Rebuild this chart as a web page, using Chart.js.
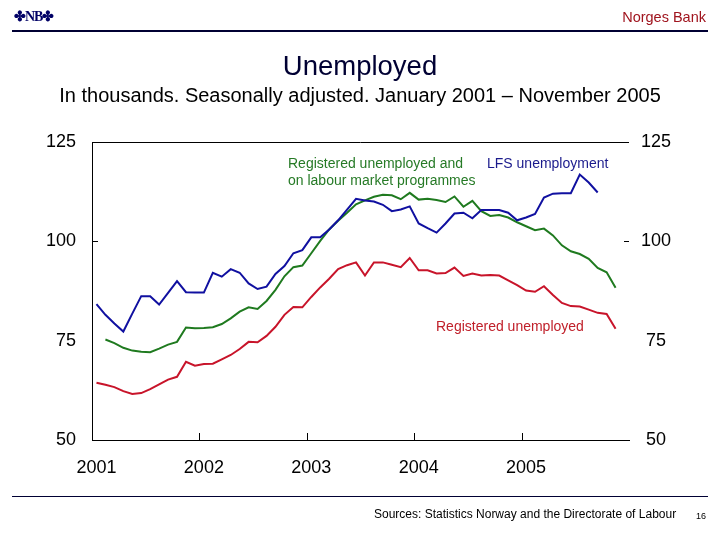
<!DOCTYPE html>
<html>
<head>
<meta charset="utf-8">
<script src="https://cdn.jsdelivr.net/npm/chart.js@4.4.0/dist/chart.umd.min.js"></script>
<style>
  html, body { margin: 0; padding: 0; background: #fff; }
  #wrap { position: relative; width: 720px; height: 540px; font-family: "Liberation Sans", Arial, sans-serif; }
  canvas { position: absolute; left: 0; top: 0; }
  .t { position: absolute; white-space: nowrap; line-height: 1; }
  .hline { position: absolute; left: 12px; width: 696px; background: #000033; }
</style>
</head>
<body>
<div id="wrap">
  <canvas id="c" width="720" height="540"></canvas>
  <div class="t" style="left:14px; top:10px; font-family:'Liberation Serif',serif; font-weight:bold; font-size:14px; color:#000066; letter-spacing:-1px;">✤NB✤</div>
  <div class="t" style="right:14px; top:10px; font-size:14.5px; color:#a0141e;">Norges Bank</div>
  <div class="hline" style="top:30px; height:2px;"></div>
  <div class="t" style="left:0; width:720px; text-align:center; top:52px; font-size:27.5px; color:#000033;">Unemployed</div>
  <div class="t" style="left:0; width:720px; text-align:center; top:85px; font-size:20px; color:#000;">In thousands. Seasonally adjusted. January 2001 – November 2005</div>
  <div class="t" style="left:288px; top:156px; font-size:14px; color:#267a26;">Registered unemployed and</div>
  <div class="t" style="left:288px; top:173px; font-size:14px; color:#267a26;">on labour market programmes</div>
  <div class="t" style="left:487px; top:156px; font-size:14px; color:#1a1a8c;">LFS unemployment</div>
  <div class="t" style="left:436px; top:319px; font-size:14px; color:#c0202a;">Registered unemployed</div>
  <div class="hline" style="top:496px; height:1px;"></div>
  <div class="t" style="left:374px; top:508px; font-size:12px; color:#000;">Sources: Statistics Norway and the Directorate of Labour</div>
  <div class="t" style="left:696px; top:512px; font-size:9px; color:#000;">16</div>
</div>
<script>
const months = [
  '2001-01','2001-02','2001-03','2001-04','2001-05','2001-06','2001-07','2001-08','2001-09','2001-10','2001-11','2001-12',
  '2002-01','2002-02','2002-03','2002-04','2002-05','2002-06','2002-07','2002-08','2002-09','2002-10','2002-11','2002-12',
  '2003-01','2003-02','2003-03','2003-04','2003-05','2003-06','2003-07','2003-08','2003-09','2003-10','2003-11','2003-12',
  '2004-01','2004-02','2004-03','2004-04','2004-05','2004-06','2004-07','2004-08','2004-09','2004-10','2004-11','2004-12',
  '2005-01','2005-02','2005-03','2005-04','2005-05','2005-06','2005-07','2005-08','2005-09','2005-10','2005-11','2005-12'
];
const yTicks = [50, 75, 100, 125];

const lfsUnemployment = [
  84.2, 81.5, 79.3, 77.3, 81.8, 86.2, 86.2, 84.1, 87.0, 90.0, 87.2, 87.1,
  87.1, 92.1, 91.1, 93.0, 92.1, 89.4, 88.0, 88.6, 91.8, 93.8, 97.0, 97.8,
  101.0, 101.0, 103.0, 105.3, 108.0, 110.7, 110.3, 110.0, 109.2, 107.6, 108.0, 108.8,
  104.5, 103.3, 102.2, 104.5, 107.0, 107.2, 105.8, 107.9, 107.9, 107.9, 107.2, 105.3,
  106.0, 106.9, 111.0, 112.0, 112.1, 112.1, 116.8, 114.8, 112.3, null, null, null
];
const registeredAndProgrammes = [
  null, 75.3, 74.4, 73.2, 72.5, 72.2, 72.1, 73.0, 74.0, 74.7, 78.3, 78.1,
  78.2, 78.4, 79.2, 80.6, 82.3, 83.4, 83.0, 85.0, 87.8, 91.2, 93.5, 93.9,
  97.0, 100.1, 103.0, 105.2, 107.2, 109.3, 110.3, 111.2, 111.7, 111.6, 110.6, 112.2,
  110.5, 110.7, 110.4, 109.9, 111.3, 108.7, 110.2, 107.6, 106.4, 106.6, 106.0, 104.8,
  103.8, 102.8, 103.2, 101.5, 99.0, 97.5, 96.8, 95.6, 93.3, 92.2, 88.3, null
];
const registeredUnemployed = [
  64.4, 63.9, 63.3, 62.3, 61.6, 61.8, 62.8, 64.0, 65.2, 65.9, 69.7, 68.7,
  69.1, 69.2, 70.3, 71.4, 72.9, 74.7, 74.6, 76.2, 78.5, 81.5, 83.5, 83.4,
  86.0, 88.4, 90.6, 93.0, 94.0, 94.7, 91.4, 94.7, 94.7, 94.1, 93.5, 95.8,
  92.7, 92.7, 91.9, 92.0, 93.4, 91.3, 91.9, 91.4, 91.5, 91.4, 90.2, 89.0,
  87.6, 87.3, 88.7, 86.5, 84.5, 83.7, 83.6, 82.8, 82.0, 81.7, 78.0, null
];

const AXIS_FONT = { family: "'Liberation Sans', Arial, sans-serif", size: 18 };
const AXIS_COLOR = '#000';

const frame = {
  id: 'frame',
  afterDraw(chart) {
    const { ctx, chartArea: a, scales } = chart;
    ctx.save();
    ctx.strokeStyle = '#000';
    ctx.lineWidth = 1;
    ctx.beginPath();
    ctx.moveTo(a.left, a.top + 0.5);
    ctx.lineTo(a.right, a.top + 0.5);
    ctx.stroke();
    const x = scales.x;
    for (let i = 12; i < months.length; i += 12) {
      const px = Math.round((x.getPixelForValue(i) + x.getPixelForValue(i - 1)) / 2) + 0.5;
      ctx.beginPath();
      ctx.moveTo(px, a.bottom);
      ctx.lineTo(px, a.bottom - 7);
      ctx.stroke();
    }
    const py = Math.round(scales.y.getPixelForValue(100)) + 0.5;
    ctx.beginPath();
    ctx.moveTo(a.left, py); ctx.lineTo(a.left + 6, py);
    ctx.moveTo(a.right, py); ctx.lineTo(a.right - 5, py);
    ctx.stroke();
    ctx.restore();
  }
};

new Chart(document.getElementById('c'), {
  type: 'line',
  data: {
    labels: months,
    datasets: [
      { label: 'LFS unemployment', data: lfsUnemployment, borderColor: '#1010a0', borderWidth: 2, pointRadius: 0, tension: 0, yAxisID: 'y' },
      { label: 'Registered unemployed and on labour market programmes', data: registeredAndProgrammes, borderColor: '#1f7a1f', borderWidth: 2, pointRadius: 0, tension: 0, yAxisID: 'y' },
      { label: 'Registered unemployed', data: registeredUnemployed, borderColor: '#c8142a', borderWidth: 2, pointRadius: 0, tension: 0, yAxisID: 'y' },
      { label: '_right', data: [], yAxisID: 'y2' }
    ]
  },
  options: {
    responsive: false,
    animation: false,
    devicePixelRatio: 1,
    layout: { padding: { top: 142, left: 0, right: 0, bottom: 0 } },
    plugins: { legend: { display: false }, tooltip: { enabled: false }, title: { display: false } },
    scales: {
      x: {
        type: 'category',
        offset: true,
        grid: { display: false, drawTicks: false },
        border: { display: true, color: '#000', width: 1 },
        afterFit: (s) => { s.height = 100; },
        ticks: {
          autoSkip: false,
          maxRotation: 0,
          padding: 17,
          color: AXIS_COLOR,
          font: AXIS_FONT,
          callback: function (v, i) { const m = months[i]; return m.endsWith('-01') ? m.slice(0, 4) : ''; }
        }
      },
      y: {
        position: 'left',
        min: 50, max: 125,
        afterBuildTicks: (s) => { s.ticks = yTicks.map(v => ({ value: v })); },
        afterFit: (s) => { s.width = 92; },
        grid: { display: false, drawTicks: false },
        border: { display: true, color: '#000', width: 1 },
        ticks: { padding: 16, color: AXIS_COLOR, font: AXIS_FONT, crossAlign: 'near' }
      },
      y2: {
        position: 'right',
        min: 50, max: 125,
        afterBuildTicks: (s) => { s.ticks = yTicks.map(v => ({ value: v })); },
        afterFit: (s) => { s.width = 91; },
        grid: { display: false, drawTicks: false },
        border: { display: false },
        ticks: { padding: 12, color: AXIS_COLOR, font: AXIS_FONT, crossAlign: 'center' }
      }
    }
  },
  plugins: [frame]
});
</script>
</body>
</html>
